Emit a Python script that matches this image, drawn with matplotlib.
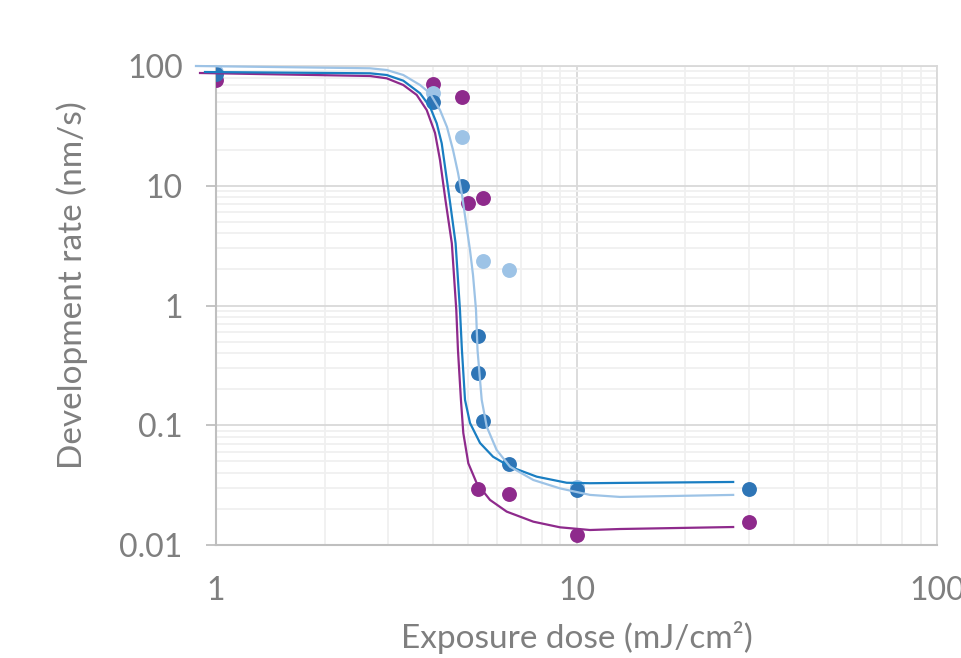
import matplotlib.pyplot as plt
import numpy as np

plt.rcParams['font.family'] = ['Lato', 'DejaVu Sans']

# measured points (dose in mJ/cm2, rate in nm/s)
lb_x = [1, 4.0, 4.81, 5.5, 6.5, 10]
lb_y = [89, 59.6, 25.5, 2.36, 1.98, 0.0305]

db_x = [1, 4.0, 4.81, 5.33, 5.33, 5.5, 6.5, 10, 30]
db_y = [86, 50, 10, 0.556, 0.273, 0.108, 0.0474, 0.0288, 0.0295]

pu_x = [1, 4.0, 4.81, 5.0, 5.5, 5.33, 6.5, 10, 30]
pu_y = [76, 70.7, 55, 7.2, 7.9, 0.0294, 0.0265, 0.0122, 0.0155]

# fitted curves
lb_fx = [0.88, 2.674, 2.976, 3.308, 3.681, 3.922, 4.182, 4.373, 4.544, 4.692,
         4.814, 4.938, 5.065, 5.163, 5.263, 5.314, 5.458, 5.636, 6.005, 6.54,
         7.59, 9.0, 10.9, 13.2, 27.2]
lb_fy = [100, 95.7, 92.6, 84.1, 69.4, 59.2, 42.9, 30.9, 19.9, 12.8,
         8.37, 4.9, 2.9, 1.8, 0.92, 0.425, 0.163, 0.0973, 0.0621, 0.0451,
         0.0349, 0.0297, 0.0262, 0.0252, 0.0262]

db_fx = [0.932, 2.674, 2.976, 3.308, 3.681, 3.922, 4.095, 4.228, 4.318, 4.45,
         4.62, 4.75, 4.81, 4.906, 5.065, 5.40, 5.868, 6.54, 7.757, 9.393,
         10.9, 13.2, 27.2]
db_fy = [89.1, 86.9, 84.1, 75.4, 59.2, 45.7, 33.2, 22.6, 14.4, 7.6,
         3.3, 0.92, 0.425, 0.163, 0.1044, 0.0711, 0.0546, 0.0451, 0.0372, 0.0331,
         0.0328, 0.033, 0.0336]

pu_fx = [0.903, 2.674, 2.976, 3.308, 3.604, 3.841, 4.051, 4.182, 4.33, 4.51,
         4.64, 4.69, 4.78, 4.853, 5.011, 5.287, 5.754, 6.403, 7.59, 9.0,
         10.9, 13.2, 27.2]
pu_fy = [87.4, 82.5, 78.9, 69.4, 57.3, 42.9, 27.6, 16.4, 7.6, 3.3,
         0.92, 0.425, 0.163, 0.0861, 0.0481, 0.0328, 0.0238, 0.019, 0.01566, 0.01405,
         0.01334, 0.0136, 0.01413]

c_lb = '#9DC3E6'
c_db = '#2E75B6'
c_dbl = '#1A7EC2'
c_pu = '#8E2A8C'
grey = '#7F7F7F'

fig = plt.figure(figsize=(9.61, 6.58), dpi=100)
ax = fig.add_axes([216/961, 1-545/658, (937-216)/961, (545-66)/658])

ax.set_xscale('log')
ax.set_yscale('log')
ax.set_xlim(1, 100)
ax.set_ylim(0.01, 100)

ax.grid(True, which='minor', color='#F0F0F0', lw=1.3)
ax.grid(True, which='major', color='#D9D9D9', lw=1.3)
ax.set_axisbelow(True)

for s in ['top', 'right']:
    ax.spines[s].set_color('#D9D9D9')
    ax.spines[s].set_linewidth(1.3)
for s in ['left', 'bottom']:
    ax.spines[s].set_color('#BFBFBF')
    ax.spines[s].set_linewidth(1.5)

ax.scatter(pu_x, pu_y, s=115, color=c_pu, zorder=3, lw=0)
ax.scatter(lb_x, lb_y, s=115, color=c_lb, zorder=3, lw=0)
ax.scatter(db_x, db_y, s=115, color=c_db, zorder=3, lw=0)

ax.plot(pu_fx, pu_fy, color=c_pu, lw=1.6, zorder=4, clip_on=False)
ax.plot(db_fx, db_fy, color=c_dbl, lw=1.6, zorder=4, clip_on=False)
ax.plot(lb_fx, lb_fy, color=c_lb, lw=1.6, zorder=4, clip_on=False)

ax.set_xticks([1, 10, 100])
ax.set_xticklabels(['1', '10', '100'])
ax.set_yticks([0.01, 0.1, 1, 10, 100])
ax.set_yticklabels(['0.01', '0.1', '1', '10', '100'])
ax.tick_params(axis='x', which='major', length=0, pad=22, labelsize=23, labelcolor=grey)
ax.tick_params(axis='y', which='major', length=7, width=1.3, color='#BFBFBF',
               pad=17, labelsize=23, labelcolor=grey)
ax.tick_params(which='minor', length=0)
ax.yaxis.set_minor_formatter(plt.NullFormatter())
ax.xaxis.set_minor_formatter(plt.NullFormatter())

fig.text(577/961, 1-638/658, 'Exposure dose (mJ/cm²)', ha='center', va='center',
         fontsize=24, color=grey)
fig.text(72/961, 1-285/658, 'Development rate (nm/s)', ha='center', va='center',
         rotation=90, fontsize=24, color=grey)

fig.savefig('out.png', dpi=100)
